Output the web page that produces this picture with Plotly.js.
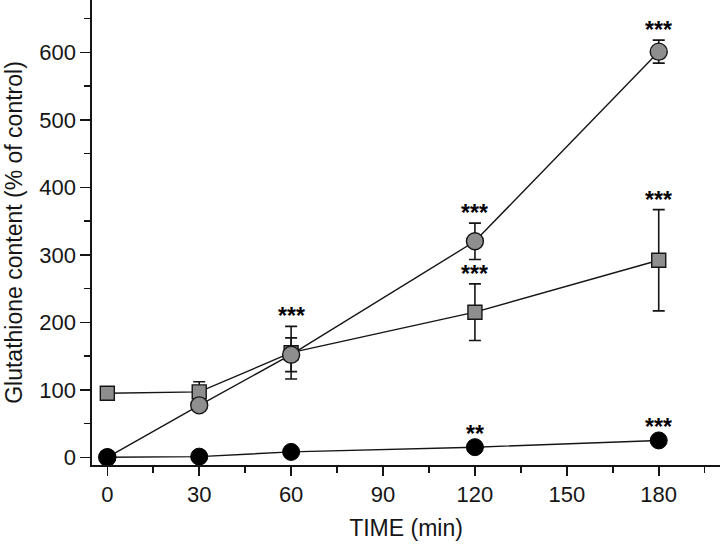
<!DOCTYPE html>
<html>
<head>
<meta charset="utf-8">
<script src="https://cdn.plot.ly/plotly-3.0.1.min.js"></script>
<style>
  html, body { margin: 0; padding: 0; background: #ffffff; }
  #chart { width: 720px; height: 549px; }
</style>
</head>
<body>
<div id="chart"></div>
<script>
// ---- data ----
var timeMin = [0, 30, 60, 120, 180];

var blackCircle      = [0, 1, 8, 15, 25];
var blackCircleErr   = [0, 0, 0, 0, 0];
var blackCircleSig   = ['', '', '', '**', '***'];

var grayCircle       = [0, 77, 152, 320, 601];
var grayCircleErr    = [0, 0, 25, 27, 17];
var grayCircleSig    = ['', '', '', '***', '***'];

var graySquare       = [95, 97, 155, 215, 292];
var graySquareErr    = [5, 15, 39, 42, 75];
var graySquareSig    = ['', '', '***', '***', '***'];

var xTickVals = [0, 30, 60, 90, 120, 150, 180];
var yTickVals = [0, 100, 200, 300, 400, 500, 600];

// ---- styles ----
var FONT = 'Liberation Sans, Arial, Helvetica, sans-serif';
var INK = '#151515';
var GRAY = '#8e8e8e';

function errY(arr) {
  return { type: 'data', array: arr, visible: true, color: INK, thickness: 1.6, width: 6 };
}

var traces = [
  {
    x: timeMin, y: graySquare, type: 'scatter', mode: 'lines+markers', name: 'square',
    line: { color: INK, width: 1.4 },
    marker: { symbol: 'square', size: 14, color: GRAY, line: { color: INK, width: 1.4 } },
    error_y: errY(graySquareErr)
  },
  {
    x: timeMin, y: grayCircle, type: 'scatter', mode: 'lines+markers', name: 'gray circle',
    line: { color: INK, width: 1.4 },
    marker: { symbol: 'circle', size: 17, color: GRAY, line: { color: INK, width: 1.4 } },
    error_y: errY(grayCircleErr)
  },
  {
    x: timeMin, y: blackCircle, type: 'scatter', mode: 'lines+markers', name: 'black circle',
    line: { color: INK, width: 1.4 },
    marker: { symbol: 'circle', size: 17, color: '#000000', line: { color: '#000000', width: 1 } },
    error_y: errY(blackCircleErr)
  }
];

// significance marks placed above each point's error bar
var annotations = [];
function addSig(vals, errs, sigs, shift) {
  for (var i = 0; i < timeMin.length; i++) {
    if (!sigs[i]) continue;
    annotations.push({
      x: timeMin[i], y: vals[i] + errs[i], xref: 'x', yref: 'y',
      text: sigs[i], showarrow: false, yanchor: 'middle', yshift: shift,
      font: { family: FONT, size: 23, color: '#000000', weight: 'bold' }
    });
  }
}
addSig(graySquare, graySquareErr, graySquareSig, 10);
addSig(grayCircle, grayCircleErr, grayCircleSig, 10);
addSig(blackCircle, blackCircleErr, blackCircleSig, 13);

var layout = {
  width: 720, height: 549,
  margin: { l: 92, r: 0, t: 0, b: 84, pad: 0 },
  paper_bgcolor: '#ffffff', plot_bgcolor: '#ffffff',
  showlegend: false,
  font: { family: FONT, color: INK },
  xaxis: {
    range: [-5, 200], autorange: false,
    tickmode: 'array', tickvals: xTickVals,
    ticks: 'outside', ticklen: 9, tickwidth: 1.6, tickcolor: INK,
    minor: { dtick: 15, tick0: 0, ticks: 'outside', ticklen: 6, tickwidth: 1.6, tickcolor: INK },
    showline: true, linecolor: INK, linewidth: 1.6,
    showgrid: false, zeroline: false,
    tickfont: { family: FONT, size: 22, color: INK },
    title: { text: 'TIME (min)', font: { family: FONT, size: 23, color: INK }, standoff: 14 },
    automargin: false
  },
  yaxis: {
    range: [-11.4, 677.5], autorange: false,
    tickmode: 'array', tickvals: yTickVals,
    ticks: 'outside', ticklen: 10, tickwidth: 1.6, tickcolor: INK,
    minor: { dtick: 50, tick0: 0, ticks: 'outside', ticklen: 6, tickwidth: 1.6, tickcolor: INK },
    showline: true, linecolor: INK, linewidth: 1.6,
    showgrid: false, zeroline: false,
    tickfont: { family: FONT, size: 22, color: INK },
    title: { text: 'Glutathione content (% of control)', font: { family: FONT, size: 23, color: INK }, standoff: 10 },
    automargin: false
  },
  annotations: annotations
};

Plotly.newPlot('chart', traces, layout, { displayModeBar: false, staticPlot: true });
</script>
</body>
</html>
